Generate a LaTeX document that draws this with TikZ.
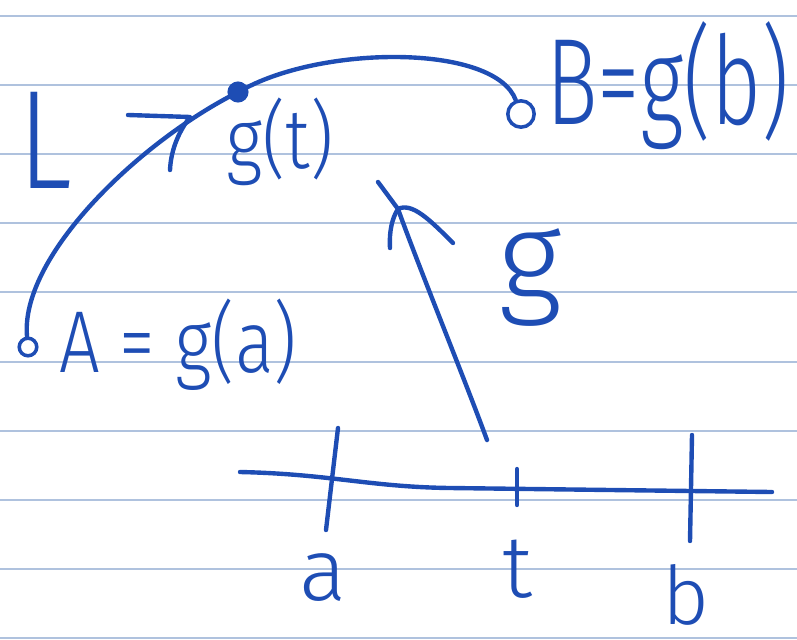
\documentclass[tikz,border=0pt]{standalone}
\usepackage{fontspec}
\setmainfont{Fira Sans Light}
\usepackage{tikz}
\definecolor{ink}{HTML}{1E4DB4}
\definecolor{ruling}{HTML}{AFC2DE}

\begin{document}
\begin{tikzpicture}[x=0.02cm,y=-0.02cm,line cap=round,line join=round,
    pen/.style={ink,line width=2.5pt},
    hand/.style={text=ink,inner sep=0pt,anchor=base},
    inkdot/.style={circle,draw=ink,line width=2pt,inner sep=0pt,minimum size=#1}]
  \useasboundingbox (0,0) rectangle (797,639);
  % ruled paper
  \foreach \y in {16,85,154,223,292,362,431,500,569,638}
    \draw[ruling,line width=0.8pt] (0,\y) -- (797,\y);

  % points on the path
  \node[inkdot=10pt] (pa) at (28,347) {};
  \node[inkdot=10pt,fill=ink] (pt) at (238,92) {};
  \node[inkdot=10pt,minimum width=15pt] (pb) at (521,114) {};

  % the path L
  \draw[pen] (pa) .. controls (20,260) and (130,150) .. (pt)
    .. controls (330,45) and (495,45) .. (pb);
  \node[hand,xscale=0.8,font=\fontsize{80}{80}\selectfont] (lname) at (45,188) {L};
  \coordinate (ltail) at (128,115);
  \coordinate (lhead) at (190,117);
  \draw[pen] (ltail) -- (lhead) .. controls (180,130) and (171,148) .. (170,170);

  % labels of the points
  \node[hand,xscale=0.85,font=\fontsize{48}{48}\selectfont] (gt) at (280,168) {g(t)};
  \node[hand,xscale=0.7,font=\fontsize{70}{70}\selectfont] (bname) at (668,124) {B=g(b)};
  \node[hand,xscale=0.82,font=\fontsize{50}{50}\selectfont] (aname) at (178,372) {A = g(a)};

  % the interval
  \draw[pen] (240,472) .. controls (330,474) and (370,487) .. (450,488) -- (772,492);
  \draw[pen] (338,428) -- (326,530);
  \draw[pen] (517,469) -- (517,505);
  \draw[pen] (692,435) -- (690,541);
  \node[hand,font=\fontsize{50}{50}\selectfont] (ta) at (323,600) {a};
  \node[hand,font=\fontsize{50}{50}\selectfont] (tt) at (517,597) {t};
  \node[hand,font=\fontsize{46}{46}\selectfont] (tb) at (686,624) {b};

  % the map g
  \coordinate (gfoot) at (487,440);
  \coordinate (gtip) at (398,209);
  \draw[pen] (gfoot) .. controls (465,380) and (420,270) .. (gtip);
  \draw[pen] (378,182) -- (gtip) .. controls (392,218) and (389,232) .. (390,248);
  \draw[pen] (gtip) .. controls (412,202) and (430,220) .. (453,243);
  \node[hand,font=\fontsize{72}{72}\selectfont] (gmap) at (530,300) {g};
\end{tikzpicture}
\end{document}
